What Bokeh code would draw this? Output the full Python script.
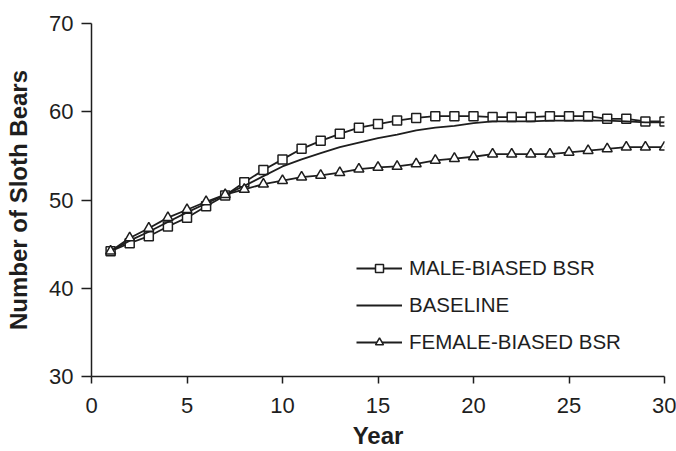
from bokeh.plotting import figure
from bokeh.models import Legend, LegendItem, Range1d, FixedTicker
from bokeh.embed import file_html
from bokeh.resources import INLINE

years = list(range(1, 31))
male_biased = [44.2, 45.1, 45.9, 47.0, 48.0, 49.3, 50.5, 52.0, 53.4, 54.6,
               55.8, 56.7, 57.5, 58.2, 58.6, 59.0, 59.3, 59.5, 59.5, 59.5,
               59.4, 59.4, 59.4, 59.5, 59.5, 59.5, 59.2, 59.2, 58.9, 58.9]
baseline = [44.2, 45.4, 46.4, 47.5, 48.6, 49.6, 50.6, 51.6, 52.7, 53.8,
            54.6, 55.3, 56.0, 56.5, 57.0, 57.4, 57.9, 58.2, 58.4, 58.7,
            58.9, 58.9, 58.9, 59.0, 59.0, 59.0, 59.0, 58.9, 58.8, 58.8]
female_biased = [44.2, 45.7, 46.8, 48.0, 48.9, 49.8, 50.6, 51.2, 51.8, 52.2,
                 52.6, 52.8, 53.1, 53.5, 53.7, 53.8, 54.1, 54.5, 54.7, 54.9,
                 55.2, 55.2, 55.2, 55.2, 55.4, 55.6, 55.8, 56.0, 56.0, 56.0]
series_labels = ["MALE-BIASED BSR", "BASELINE", "FEMALE-BIASED BSR"]
x_ticks = [0, 5, 10, 15, 20, 25, 30]
y_ticks = [30, 40, 50, 60, 70]
x_title = "Year"
y_title = "Number of Sloth Bears"

INK = "#1e1e1e"
FONT = "Liberation Sans"

p = figure(width=676, height=451, output_backend="svg", toolbar_location=None,
           x_range=Range1d(0, 30), y_range=Range1d(30, 70),
           min_border_left=91, min_border_right=12, min_border_top=23,
           min_border_bottom=75)
p.outline_line_color = None
p.xgrid.visible = False
p.ygrid.visible = False
p.background_fill_color = "white"

l_male = p.line(years, male_biased, line_color=INK, line_width=1.8)
s_male = p.scatter(years, male_biased, marker="square", size=9,
                   fill_color="white", line_color=INK, line_width=1.5)
l_base = p.line(years, baseline, line_color=INK, line_width=1.8)
l_fem = p.line(years, female_biased, line_color=INK, line_width=1.8)
s_fem = p.scatter(years, female_biased, marker="triangle", size=10,
                  fill_color="white", line_color=INK, line_width=1.5)

legend = Legend(items=[
    LegendItem(label=series_labels[0], renderers=[l_male, s_male]),
    LegendItem(label=series_labels[1], renderers=[l_base]),
    LegendItem(label=series_labels[2], renderers=[l_fem, s_fem]),
], location=(265, 22))
legend.border_line_color = None
legend.background_fill_alpha = 0
legend.padding = 0
legend.margin = 0
legend.spacing = 13
legend.glyph_width = 46
legend.glyph_height = 20
legend.label_height = 20
legend.label_standoff = 7
legend.label_text_font = FONT
legend.label_text_font_size = "20.5px"
legend.label_text_color = INK
p.add_layout(legend)

for ax in (p.xaxis[0], p.yaxis[0]):
    ax.axis_line_color = INK
    ax.axis_line_width = 1.5
    ax.major_tick_line_color = INK
    ax.major_tick_line_width = 1.5
    ax.minor_tick_line_color = None
    ax.major_tick_in = 0
    ax.major_label_text_font = FONT
    ax.major_label_text_font_size = "22px"
    ax.major_label_text_color = INK
    ax.axis_label_text_font = FONT
    ax.axis_label_text_font_size = "24px"
    ax.axis_label_text_font_style = "bold"
    ax.axis_label_text_color = INK

p.xaxis[0].ticker = FixedTicker(ticks=x_ticks)
p.yaxis[0].ticker = FixedTicker(ticks=y_ticks)
p.xaxis[0].major_tick_out = 7
p.yaxis[0].major_tick_out = 10
p.xaxis[0].major_label_standoff = 14
p.yaxis[0].major_label_standoff = 8
p.xaxis[0].axis_label = x_title
p.yaxis[0].axis_label = y_title
p.xaxis[0].axis_label_standoff = 6
p.yaxis[0].axis_label_standoff = 14

open("out.html", "w").write(file_html(p, INLINE))
